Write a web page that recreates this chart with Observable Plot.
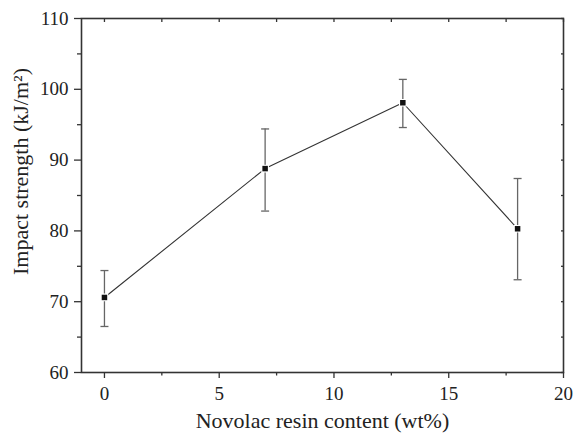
<!DOCTYPE html>
<html>
<head>
<meta charset="utf-8">
<script src="https://cdn.jsdelivr.net/npm/d3@7"></script>
<script src="https://cdn.jsdelivr.net/npm/@observablehq/plot@0.6"></script>
<style>
  html, body { margin: 0; padding: 0; background: #fff; }
  svg, svg text, svg g { font-family: "Liberation Serif", "Times New Roman", serif !important; font-variant: normal !important; }
</style>
</head>
<body>
<div id="chart"></div>
<script>
// Data
const resinContent = [0, 7, 13, 18];
const impactStrength = [70.6, 88.8, 98.1, 80.3];
const errorHigh = [74.4, 94.4, 101.4, 87.4];
const errorLow = [66.5, 82.8, 94.6, 73.1];

const xMajorTicks = [0, 5, 10, 15, 20];
const xMinorTicks = [2.5, 7.5, 12.5, 17.5];
const yMajorTicks = [60, 70, 80, 90, 100, 110];
const yMinorTicks = [65, 75, 85, 95, 105];

const xTitle = "Novolac resin content (wt%)";
const yTitle = "Impact strength (kJ/m\u00B2)";

const data = resinContent.map((x, i) => ({
  x, y: impactStrength[i], hi: errorHigh[i], lo: errorLow[i]
}));

const capSymbol = {
  draw(ctx, size) {
    ctx.moveTo(-4, 0);
    ctx.lineTo(4, 0);
  }
};

const axisColor = "#333";
const font = "Liberation Serif";

const chart = Plot.plot({
  width: 579,
  height: 433,
  marginLeft: 81,
  marginRight: 16,
  marginTop: 18,
  marginBottom: 61,
  style: { fontFamily: font, fontSize: "19px", color: "#222", background: "#fff" },
  x: { domain: [-1, 20] },
  y: { domain: [60, 110] },
  marks: [
    // bottom axis ticks
    Plot.axisX({ ticks: xMajorTicks, tickSize: 6, text: null, label: null, stroke: axisColor, strokeWidth: 1.3 }),
    Plot.axisX({ ticks: xMinorTicks, tickSize: 3.5, text: null, label: null, stroke: axisColor, strokeWidth: 1.3 }),
    // bottom tick labels
    Plot.text(xMajorTicks, { x: d => d, frameAnchor: "bottom", dy: 14, lineAnchor: "top", textAnchor: "middle", fontSize: 19, fill: "#222", fontFamily: font }),
    // top axis (inward)
    Plot.axisX({ anchor: "top", ticks: xMajorTicks.concat(xMinorTicks), tickSize: -3, text: null, label: null, stroke: axisColor, strokeWidth: 1.3 }),
    // left axis ticks
    Plot.axisY({ ticks: yMajorTicks, tickSize: 7, text: null, label: null, stroke: axisColor, strokeWidth: 1.3 }),
    Plot.axisY({ ticks: yMinorTicks, tickSize: 4, text: null, label: null, stroke: axisColor, strokeWidth: 1.3 }),
    // left tick labels
    Plot.text(yMajorTicks, { y: d => d, frameAnchor: "left", dx: -13, textAnchor: "end", lineAnchor: "middle", fontSize: 19, fill: "#222", fontFamily: font }),
    // right axis (inward)
    Plot.axisY({ anchor: "right", ticks: yMajorTicks.concat(yMinorTicks), tickSize: -3, text: null, label: null, stroke: axisColor, strokeWidth: 1.3 }),
    Plot.frame({ stroke: axisColor, strokeWidth: 1.6 }),
    // error bars
    Plot.ruleX(data, { x: "x", y1: "lo", y2: "hi", stroke: "#666", strokeWidth: 1.3 }),
    Plot.dot(data, { x: "x", y: "hi", symbol: capSymbol, stroke: "#666", strokeWidth: 1.3 }),
    Plot.dot(data, { x: "x", y: "lo", symbol: capSymbol, stroke: "#666", strokeWidth: 1.3 }),
    // connecting line
    Plot.line(data, { x: "x", y: "y", stroke: "#333", strokeWidth: 1.1 }),
    // markers with white halo
    Plot.dot(data, { x: "x", y: "y", symbol: "square", r: 3.1, fill: "#111", stroke: "#fff", strokeWidth: 2.2, paintOrder: "stroke" }),
    // axis titles
    Plot.text([xTitle], { frameAnchor: "bottom", dy: 55, lineAnchor: "bottom", textAnchor: "middle", fontSize: 22, fill: "#222", fontFamily: font }),
    Plot.text([yTitle], { frameAnchor: "left", dx: -61, dy: -24, rotate: -90, textAnchor: "middle", lineAnchor: "middle", fontSize: 22, fill: "#222", fontFamily: font })
  ]
});

document.getElementById("chart").appendChild(chart);
</script>
</body>
</html>
